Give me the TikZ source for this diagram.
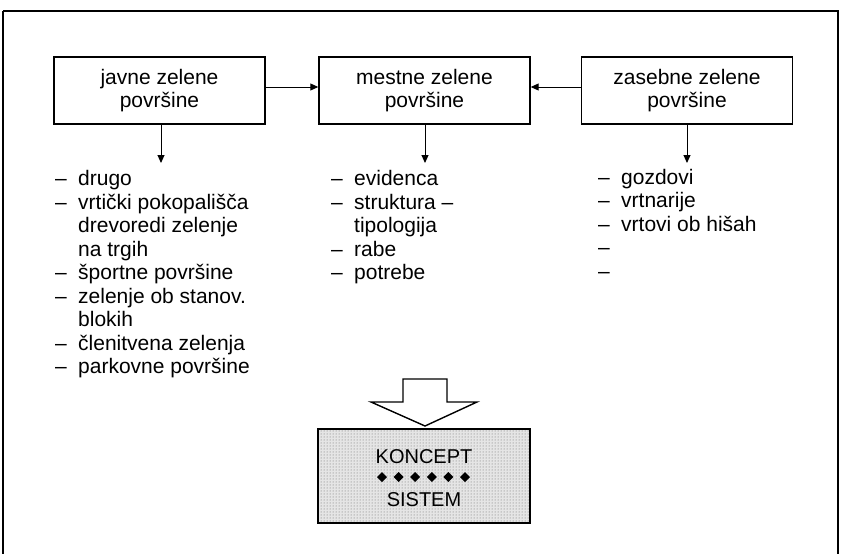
\documentclass[tikz,border=0pt]{standalone}
\usepackage{fontspec}
\setmainfont{Liberation Sans}
\usetikzlibrary{patterns,arrows.meta}
\begin{document}
\begin{tikzpicture}[x=1pt,y=-1pt,
  box/.style={draw,line width=1.4pt,minimum width=211pt,minimum height=67pt,align=center,inner sep=0pt,font=\fontsize{21}{23.5}\selectfont},
  item/.style={anchor=base west,inner sep=0pt,font=\fontsize{21}{23.5}\selectfont},
  conn/.style={line width=1pt,-{Triangle[length=8pt,width=7pt]}}]
\useasboundingbox (0,0) rectangle (841,554);
\draw[line width=2pt] (3,11) -- (838,11) -- (838,560) (3,11) -- (3,560);
% boxes
\node[box] (b1) at (159.5,90.5) {javne zelene\\površine};
\node[box] (b2) at (424.5,90.5) {mestne zelene\\površine};
\node[box] (b3) at (687,90.5) {zasebne zelene\\površine};
\draw[conn] ([yshift=3.5pt]b1.east) -- ([yshift=3.5pt]b2.west);
\draw[conn] ([yshift=3.5pt]b3.west) -- ([yshift=3.5pt]b2.east);
\coordinate (t1) at (161,163);
\coordinate (t2) at (425,163);
\coordinate (t3) at (687,163);
\draw[conn] (b1.south -| t1) -- (t1);
\draw[conn] (b2.south -| t2) -- (t2);
\draw[conn] (b3.south -| t3) -- (t3);
% left list
\foreach \y/\d/\t [count=\i] in {185.5/–/drugo, 209/–/vrtički pokopališča, 232.5//drevoredi zelenje, 256//na trgih, 279.5/–/športne površine, 303/–/zelenje ob stanov., 326.5//blokih, 350/–/členitvena zelenja, 373.5/–/parkovne površine}{
  \node[item] (ld\i) at (55,\y) {\d};
  \node[item] (lt\i) at (78,\y) {\t};
}
% middle list
\foreach \y/\d/\t [count=\i] in {185.5/–/evidenca, 209/–/struktura –, 232.5//tipologija, 256/–/rabe, 279.5/–/potrebe}{
  \node[item] (md\i) at (331,\y) {\d};
  \node[item] (mt\i) at (354,\y) {\t};
}
% right list
\foreach \y/\d/\t [count=\i] in {184/–/gozdovi, 207.5/–/vrtnarije, 231/–/vrtovi ob hišah, 254.5/–/{}, 278/–/{}}{
  \node[item] (rd\i) at (598,\y) {\d};
  \node[item] (rt\i) at (621,\y) {\t};
}
% big arrow
\draw[line width=1.4pt,fill=white] (403,379) -- (447,379) -- (447,402) -- (477,402) -- (425,426) -- (371,402) -- (403,402) -- cycle;
% concept box
\fill[black!10] (318,429) rectangle (530,523);
\fill[pattern=dots,pattern color=black!60] (318,429) rectangle (530,523);
\draw[line width=1.4pt] (318,429) rectangle (530,523);
\node[inner sep=0pt,anchor=base,font=\fontsize{20}{23}\selectfont] (k) at (424,463) {KONCEPT};
\node[inner sep=0pt,anchor=base,font=\fontsize{20}{23}\selectfont] (s) at (424,506) {SISTEM};
\foreach \i in {0,...,5}{
  \fill (382+\i*16.6,472) -- (387+\i*16.6,477) -- (382+\i*16.6,482) -- (377+\i*16.6,477) -- cycle;
}
\end{tikzpicture}
\end{document}
